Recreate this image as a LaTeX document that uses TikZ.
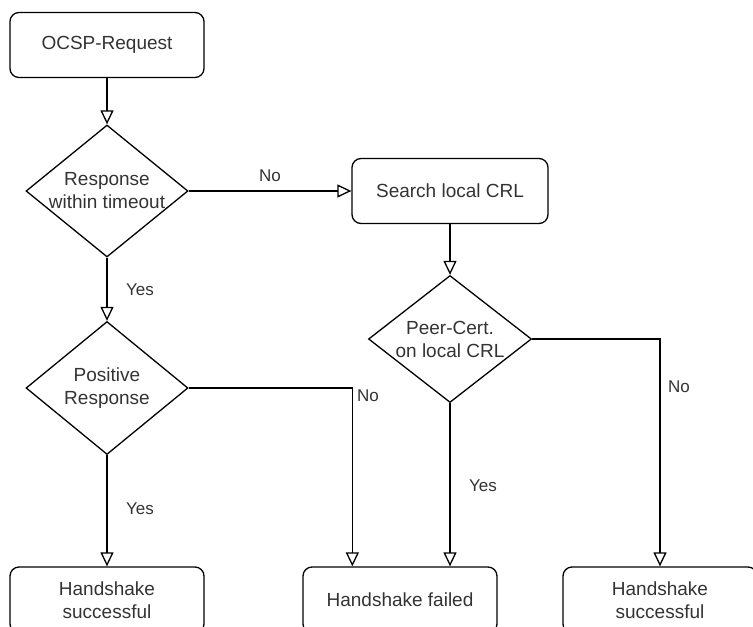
\documentclass[tikz,border=0pt]{standalone}
\usepackage{fontspec}
\setmainfont{Liberation Sans}
\usetikzlibrary{shapes.geometric,arrows.meta}
\begin{document}
\begin{tikzpicture}[x=1pt,y=-1pt,
  txt/.style={font=\fontsize{19}{23}\selectfont, text=black!80},
  box/.style={draw, rounded corners=9pt, line width=1.3pt, minimum width=194pt, minimum height=65pt, align=center, inner sep=0pt, txt},
  dia/.style={draw, diamond, line width=1.3pt, minimum width=162pt, minimum height=132pt, inner sep=0pt},
  dtext/.style={txt, align=center, inner sep=0pt},
  arr/.style={draw, line width=1.3pt, -{Triangle[open,length=14pt,width=13pt]}},
  lbl/.style={font=\fontsize{17}{20}\selectfont, text=black!80, inner sep=0pt}
]
\useasboundingbox (0,0) rectangle (753,627);
\clip (0,0) rectangle (753,627);

\node[box] (ocsp) at (107,45) {OCSP-Request};
\node[dia, label={[dtext]center:Response\\within timeout}] (d1) at (107,191) {};
\node[box, minimum width=196pt] (search) at (450,191) {Search local CRL};
\node[dia, minimum width=163pt, minimum height=127pt, label={[dtext]center:Peer-Cert.\\on local CRL}] (d2) at (450,339) {};
\node[dia, minimum height=133pt, label={[dtext]center:Positive\\Response}] (d3) at (107,388) {};

\node[box, minimum height=66pt] (succ1) at (107,600) {Handshake\\successful};
\node[box, minimum height=66pt] (failed) at (400,600) {Handshake failed};
\node[box, minimum height=66pt] (succ2) at (660,600) {Handshake\\successful};

\draw[arr] (ocsp) -- (d1);
\draw[arr] (d1) -- (search);
\draw[arr] (d1) -- (d3);
\draw[arr] (search) -- (d2);
\draw[arr] (d3.east) -| ([xshift=50pt]failed.north west);
\draw[arr] (d3) -- (succ1);
\draw[arr] (d2.south) -- (d2.south |- failed.north);
\draw[arr] (d2.east) -| (succ2.north);

\node[lbl] (l1) at (270,176) {No};
\node[lbl] (l2) at (140,290) {Yes};
\node[lbl] (l3) at (368,396) {No};
\node[lbl] (l4) at (140,509) {Yes};
\node[lbl] (l5) at (483,486) {Yes};
\node[lbl] (l6) at (679,387) {No};
\end{tikzpicture}
\end{document}
